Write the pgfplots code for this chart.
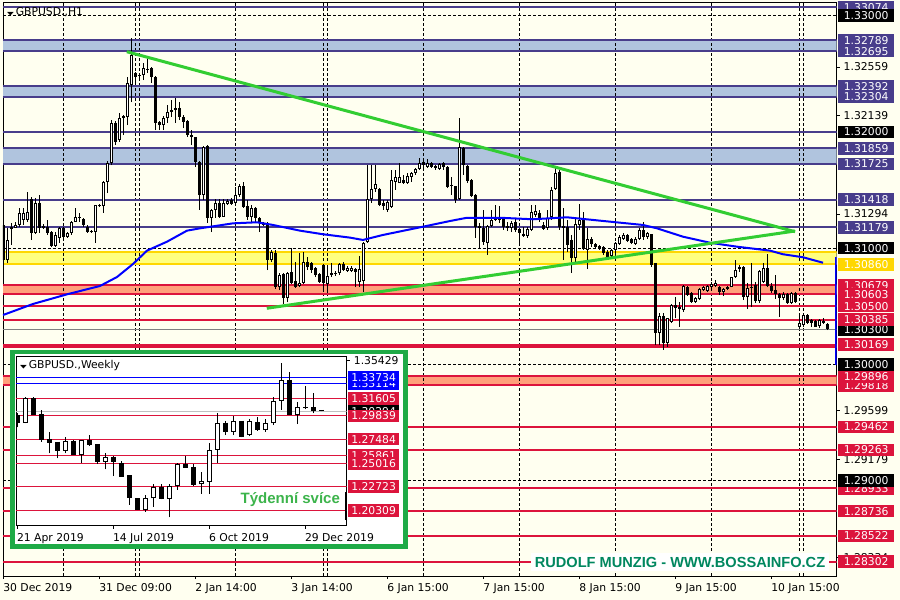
\documentclass[border=0pt]{standalone}
\usepackage{pgfplots}
\pgfplotsset{compat=1.18}
\usepackage{pgfplotstable}
\usepackage{fontspec}
\setmainfont{DejaVu Sans}
\newfontfamily\libsans{Liberation Sans}
\definecolor{bg}{RGB}{255,255,240}
\definecolor{levblue}{RGB}{72,61,139}
\definecolor{bandblue}{RGB}{176,196,222}
\definecolor{crim}{RGB}{220,20,60}
\definecolor{salm}{RGB}{255,160,122}
\definecolor{goldl}{RGB}{255,215,0}
\definecolor{yband}{RGB}{255,255,128}
\definecolor{trend}{RGB}{50,205,50}
\definecolor{frameg}{RGB}{30,170,70}
\definecolor{wmark}{RGB}{0,135,95}
\definecolor{tyd}{RGB}{60,180,75}
\definecolor{curgrey}{RGB}{128,128,128}
\definecolor{silv}{RGB}{192,192,192}

\pgfplotstableread{
n O H L C
1 1.31199 1.31199 1.30837 1.30897
2 1.30897 1.31173 1.30872 1.31070
3 1.31164 1.31216 1.31027 1.31181
4 1.31173 1.31225 1.31173 1.31199
5 1.31199 1.31345 1.31181 1.31302
6 1.31242 1.31345 1.31199 1.31302
7 1.31242 1.31483 1.31225 1.31311
8 1.31422 1.31440 1.31070 1.31130
9 1.31130 1.31431 1.31121 1.31388
10 1.31388 1.31457 1.31130 1.31173
11 1.31173 1.31207 1.31164 1.31190
12 1.31181 1.31242 1.31113 1.31130
13 1.31138 1.31147 1.31009 1.31018
14 1.31018 1.31138 1.31009 1.31113
15 1.31087 1.31181 1.31044 1.31173
16 1.31173 1.31181 1.31087 1.31095
17 1.31095 1.31138 1.31087 1.31130
18 1.31130 1.31233 1.31113 1.31225
19 1.31225 1.31345 1.31225 1.31268
20 1.31259 1.31302 1.31225 1.31268
21 1.31250 1.31259 1.31181 1.31199
22 1.31181 1.31199 1.31130 1.31138
23 1.31138 1.31156 1.31130 1.31147
24 1.31138 1.31371 1.31044 1.31371
25 1.31362 1.31379 1.31354 1.31371
26 1.31362 1.31577 1.31302 1.31569
27 1.31569 1.31749 1.31474 1.31732
28 1.31732 1.32102 1.31715 1.32077
29 1.32077 1.32094 1.31887 1.31913
30 1.31930 1.32163 1.31913 1.32120
31 1.32120 1.32145 1.31973 1.32137
32 1.32128 1.32472 1.32059 1.32421
33 1.32403 1.32808 1.32257 1.32662
34 1.32507 1.32515 1.32421 1.32472
35 1.32490 1.32507 1.32464 1.32481
36 1.32490 1.32593 1.32446 1.32550
37 1.32533 1.32644 1.32507 1.32541
38 1.32550 1.32558 1.32421 1.32472
39 1.32472 1.32481 1.32016 1.32077
40 1.32085 1.32094 1.32016 1.32059
41 1.32059 1.32137 1.32016 1.32120
42 1.32120 1.32231 1.32077 1.32171
43 1.32171 1.32274 1.32128 1.32188
44 1.32188 1.32292 1.32077 1.32206
45 1.32206 1.32257 1.32102 1.32128
46 1.32128 1.32145 1.32033 1.32085
47 1.32094 1.32102 1.31956 1.31973
48 1.31973 1.32016 1.31887 1.31956
49 1.31956 1.31956 1.31698 1.31741
50 1.31741 1.31749 1.31328 1.31457
51 1.31457 1.31879 1.31414 1.31870
52 1.31879 1.31887 1.31216 1.31259
53 1.31259 1.31336 1.31138 1.31328
54 1.31328 1.31422 1.31259 1.31388
55 1.31388 1.31422 1.31259 1.31268
56 1.31268 1.31422 1.31268 1.31388
57 1.31379 1.31422 1.31371 1.31405
58 1.31414 1.31431 1.31371 1.31379
59 1.31388 1.31526 1.31371 1.31457
60 1.31457 1.31552 1.31440 1.31534
61 1.31534 1.31569 1.31345 1.31354
62 1.31362 1.31414 1.31242 1.31268
63 1.31268 1.31371 1.31225 1.31345
64 1.31345 1.31354 1.31225 1.31259
65 1.31259 1.31268 1.31138 1.31216
66 1.31199 1.31225 1.31190 1.31216
67 1.31216 1.31225 1.30811 1.30897
68 1.30897 1.30984 1.30880 1.30966
69 1.30958 1.30984 1.30648 1.30665
70 1.30665 1.30786 1.30639 1.30768
71 1.30777 1.30786 1.30519 1.30570
72 1.30570 1.30794 1.30536 1.30786
73 1.30794 1.31001 1.30691 1.30700
74 1.30717 1.30880 1.30657 1.30665
75 1.30674 1.30958 1.30665 1.30700
76 1.30700 1.30966 1.30691 1.30880
77 1.30880 1.30923 1.30811 1.30837
78 1.30872 1.30880 1.30786 1.30811
79 1.30829 1.30837 1.30751 1.30768
80 1.30777 1.30786 1.30700 1.30708
81 1.30854 1.30863 1.30622 1.30700
82 1.30691 1.30854 1.30613 1.30760
83 1.30768 1.30872 1.30751 1.30786
84 1.30777 1.30803 1.30760 1.30786
85 1.30786 1.30872 1.30768 1.30863
86 1.30863 1.30880 1.30803 1.30811
87 1.30803 1.30846 1.30794 1.30829
88 1.30803 1.30846 1.30794 1.30829
89 1.30820 1.30829 1.30665 1.30794
90 1.30708 1.30932 1.30665 1.30820
91 1.30717 1.31052 1.30622 1.31044
92 1.31052 1.31715 1.31044 1.31422
93 1.31422 1.31715 1.31388 1.31509
94 1.31509 1.31715 1.31483 1.31552
95 1.31509 1.31517 1.31362 1.31371
96 1.31388 1.31414 1.31328 1.31362
97 1.31328 1.31414 1.31311 1.31397
98 1.31354 1.31672 1.31345 1.31586
99 1.31569 1.31672 1.31500 1.31612
100 1.31560 1.31732 1.31560 1.31612
101 1.31586 1.31629 1.31552 1.31560
102 1.31560 1.31646 1.31552 1.31620
103 1.31612 1.31655 1.31569 1.31646
104 1.31646 1.31689 1.31629 1.31681
105 1.31681 1.31775 1.31672 1.31732
106 1.31741 1.31749 1.31681 1.31715
107 1.31698 1.31767 1.31689 1.31732
108 1.31732 1.31741 1.31689 1.31698
109 1.31706 1.31715 1.31672 1.31689
110 1.31681 1.31732 1.31672 1.31724
111 1.31732 1.31741 1.31672 1.31698
112 1.31698 1.31706 1.31517 1.31526
113 1.31543 1.31612 1.31457 1.31534
114 1.31534 1.31534 1.31388 1.31414
115 1.31422 1.32120 1.31414 1.31870
116 1.31861 1.31870 1.31629 1.31715
117 1.31706 1.31715 1.31560 1.31577
118 1.31586 1.31595 1.31440 1.31448
119 1.31457 1.31465 1.31087 1.31181
120 1.31190 1.31216 1.31001 1.31173
121 1.31173 1.31328 1.31027 1.31052
122 1.31044 1.31199 1.30941 1.31190
123 1.31190 1.31328 1.31181 1.31242
124 1.31242 1.31371 1.31233 1.31268
125 1.31268 1.31362 1.31216 1.31242
126 1.31250 1.31259 1.31156 1.31181
127 1.31173 1.31225 1.31147 1.31190
128 1.31173 1.31233 1.31138 1.31216
129 1.31225 1.31250 1.31138 1.31156
130 1.31164 1.31173 1.31035 1.31130
131 1.31104 1.31181 1.31095 1.31121
132 1.31104 1.31181 1.31087 1.31164
133 1.31156 1.31371 1.31147 1.31311
134 1.31285 1.31371 1.31268 1.31319
135 1.31302 1.31328 1.31225 1.31242
136 1.31199 1.31225 1.31156 1.31164
137 1.31173 1.31328 1.31156 1.31259
138 1.31268 1.31526 1.31242 1.31500
139 1.31509 1.31689 1.31500 1.31646
140 1.31655 1.31672 1.31156 1.31181
141 1.31190 1.31345 1.30897 1.31173
142 1.31181 1.31242 1.30966 1.31027
143 1.31070 1.31113 1.30786 1.30915
144 1.30915 1.31259 1.30872 1.31207
145 1.31199 1.31379 1.31156 1.31242
146 1.31242 1.31311 1.30984 1.30992
147 1.30984 1.31173 1.30820 1.31078
148 1.31078 1.31095 1.31009 1.31035
149 1.31035 1.31044 1.31001 1.31009
150 1.31018 1.31027 1.30984 1.31001
151 1.31009 1.31018 1.30941 1.30958
152 1.30966 1.30984 1.30915 1.30923
153 1.30932 1.30992 1.30923 1.30984
154 1.30984 1.31052 1.30958 1.31044
155 1.31035 1.31113 1.31027 1.31095
156 1.31078 1.31130 1.31070 1.31113
157 1.31113 1.31121 1.31052 1.31061
158 1.31078 1.31087 1.31035 1.31044
159 1.31035 1.31095 1.31027 1.31078
160 1.31078 1.31173 1.31070 1.31156
161 1.31156 1.31225 1.31070 1.31095
162 1.31095 1.31138 1.31078 1.31130
163 1.31121 1.31121 1.30837 1.30854
164 1.30872 1.30872 1.30166 1.30269
165 1.30269 1.30441 1.30166 1.30416
166 1.30416 1.30441 1.30123 1.30183
167 1.30183 1.30398 1.30149 1.30398
168 1.30364 1.30519 1.30355 1.30510
169 1.30510 1.30579 1.30398 1.30484
170 1.30476 1.30536 1.30321 1.30493
171 1.30467 1.30682 1.30450 1.30674
172 1.30665 1.30674 1.30588 1.30596
173 1.30613 1.30622 1.30527 1.30536
174 1.30536 1.30579 1.30527 1.30570
175 1.30562 1.30657 1.30553 1.30648
176 1.30639 1.30674 1.30631 1.30665
177 1.30631 1.30682 1.30622 1.30674
178 1.30665 1.30708 1.30657 1.30691
179 1.30674 1.30725 1.30665 1.30700
180 1.30665 1.30674 1.30596 1.30622
181 1.30622 1.30657 1.30588 1.30648
182 1.30648 1.30674 1.30639 1.30665
183 1.30665 1.30751 1.30665 1.30751
184 1.30751 1.30897 1.30743 1.30811
185 1.30820 1.30854 1.30794 1.30837
186 1.30837 1.30846 1.30553 1.30579
187 1.30579 1.30700 1.30476 1.30657
188 1.30657 1.30872 1.30493 1.30665
189 1.30682 1.30708 1.30527 1.30545
190 1.30545 1.30811 1.30527 1.30803
191 1.30708 1.30872 1.30700 1.30829
192 1.30829 1.30949 1.30665 1.30674
193 1.30674 1.30700 1.30613 1.30631
194 1.30639 1.30768 1.30562 1.30605
195 1.30605 1.30613 1.30407 1.30570
196 1.30570 1.30622 1.30553 1.30605
197 1.30605 1.30613 1.30519 1.30527
198 1.30527 1.30622 1.30519 1.30613
199 1.30613 1.30622 1.30527 1.30536
200 1.30321 1.30433 1.30312 1.30355
201 1.30338 1.30433 1.30321 1.30424
202 1.30424 1.30433 1.30347 1.30355
203 1.30381 1.30390 1.30321 1.30355
204 1.30373 1.30381 1.30321 1.30321
205 1.30329 1.30390 1.30312 1.30381
206 1.30373 1.30398 1.30347 1.30355
207 1.30347 1.30355 1.30295 1.30304
}\candles

\pgfplotstableread{
k O H L C
0 1.29920 1.30089 1.28676 1.29147
1 1.29147 1.31770 1.29080 1.31602
2 1.31602 1.31770 1.29920 1.29920
3 1.30021 1.30425 1.27231 1.27399
4 1.27466 1.28240 1.26054 1.27130
5 1.27231 1.27231 1.25550 1.26323
6 1.26323 1.27735 1.26054 1.27298
7 1.27332 1.27399 1.25886 1.25886
8 1.25886 1.27399 1.25113 1.27399
9 1.27399 1.27903 1.26794 1.26895
10 1.26996 1.26996 1.24978 1.25214
11 1.25214 1.26054 1.24441 1.25651
12 1.25718 1.25785 1.23768 1.25214
13 1.25046 1.25315 1.23701 1.23701
14 1.23869 1.23869 1.20844 1.21517
15 1.21517 1.21517 1.20339 1.20339
16 1.20339 1.21853 1.20171 1.21517
17 1.21517 1.22961 1.20675 1.22693
18 1.22693 1.22961 1.21416 1.21483
19 1.21483 1.22961 1.19600 1.22794
20 1.22794 1.25046 1.22357 1.24978
21 1.24978 1.25785 1.24609 1.24609
22 1.24642 1.24978 1.22760 1.22861
23 1.22928 1.24172 1.21954 1.23230
24 1.23197 1.27063 1.21954 1.26391
25 1.26391 1.30156 1.25113 1.29147
26 1.29147 1.29349 1.27903 1.28240
27 1.28240 1.29819 1.27903 1.29349
28 1.29349 1.29349 1.27668 1.27735
29 1.27903 1.29484 1.27802 1.29315
30 1.29214 1.29752 1.28340 1.28407
31 1.28407 1.29484 1.28240 1.29080
32 1.29080 1.31770 1.28911 1.31333
33 1.31333 1.35199 1.30425 1.33451
34 1.33451 1.34291 1.29920 1.29920
35 1.29920 1.31265 1.29012 1.30694
36 1.30593 1.32846 1.30492 1.30694
37 1.30694 1.32173 1.30089 1.30358
38 1.30425 1.30425 1.30290 1.30290
}\weekly

\newcommand\labfont{\fontsize{10.8pt}{12pt}\selectfont}
\tikzset{
  lab/.style={anchor=west, xshift=1.5pt, text=white, minimum width=56pt, minimum height=12.5pt, inner sep=0pt, font=\labfont},
  plab/.style={anchor=west, xshift=7pt, text=black, inner sep=0pt, font=\labfont},
  gridst/.style={black, line width=0.7pt, dash pattern=on 3pt off 2pt},
  levst/.style={levblue, line width=2pt},
  goldst/.style={goldl, line width=2pt},
  crimst/.style={crim, line width=2pt},
  curst/.style={curgrey, line width=1pt},
}
\newcommand\hl[2]{\addplot[#1] coordinates {(\XL,#2) (\XR,#2)};}
\newcommand\vl[2]{\addplot[#1] coordinates {(#2,\YB) (#2,\YT)};}
\newcommand\band[3]{\addplot[draw=none, fill=#1] coordinates {(\XL,#2) (\XR,#2) (\XR,#3) (\XL,#3)};}
\newcommand\blab[2]{\node[lab, fill=#2] at (axis cs:\XR,#1) {#1};}
\newcommand\tlab[1]{\draw[black, line width=0.8pt] (axis cs:\XR,#1) -- ++(3.5pt,0pt); \node[plab] at (axis cs:\XR,#1) {#1};}
\newcommand\tri{\scalebox{1.1}[0.6]{\fontsize{8pt}{8pt}\selectfont ▼}}

\begin{document}
\begin{tikzpicture}
\path[use as bounding box, fill=bg] (-3pt,-24pt) rectangle (897pt,576pt);
\def\XL{0.85}\def\XR{209.225}\def\YB{1.28178}\def\YT{1.331135}
\begin{axis}[
  at={(0pt,0pt)}, anchor=south west,
  scale only axis, width=833.5pt, height=573.5pt,
  xmin=0.85, xmax=209.225, ymin=1.28178, ymax=1.331135,
  clip mode=individual,
  axis line style={black, line width=0.8pt},
  axis background/.style={fill=bg},
  ytick=\empty,
  xtick={1,25,49,73,97,121,145,169,193},
  xticklabels={30 Dec 2019, 31 Dec 09:00, 2 Jan 14:00, 3 Jan 14:00, 6 Jan 15:00, 7 Jan 15:00, 8 Jan 15:00, 9 Jan 15:00, 10 Jan 15:00},
  xtick pos=left, tick align=outside, major tick length=3pt,
  xtick style={black, line width=0.8pt},
  xticklabel style={anchor=north west, inner sep=0pt, font=\labfont, yshift=-4pt, xshift=-0.5pt},
]
% bands
\band{bandblue}{1.32695}{1.32789}
\band{bandblue}{1.32304}{1.32392}
\band{bandblue}{1.31725}{1.31859}
\band{yband}{1.30860}{1.30966}
\band{salm}{1.30603}{1.30679}
\band{salm}{1.29818}{1.29896}
% grid
\hl{gridst}{1.33}\hl{gridst}{1.32}\hl{gridst}{1.31}\hl{gridst}{1.30}\hl{gridst}{1.29}
\vl{gridst}{15.9}\vl{gridst}{34.0}\vl{gridst}{34.9}\vl{gridst}{59.0}\vl{gridst}{80.9}\vl{gridst}{81.9}
\vl{gridst}{106.0}\vl{gridst}{129.9}\vl{gridst}{154.0}\vl{gridst}{177.9}\vl{gridst}{199.9}\vl{gridst}{200.9}
% level lines
\hl{levst}{1.33074}\hl{levst}{1.32789}\hl{levst}{1.32695}\hl{levst}{1.32392}\hl{levst}{1.32304}
\hl{levst}{1.32000}\hl{levst}{1.31859}\hl{levst}{1.31725}\hl{levst}{1.31418}\hl{levst}{1.31179}
\hl{goldst}{1.30966}\hl{goldst}{1.30860}
\hl{crimst}{1.30679}\hl{crimst}{1.30603}\hl{crimst}{1.30500}\hl{crimst}{1.30385}\hl{crimst}{1.30169}
\hl{crimst}{1.30151}\hl{crimst}{1.29896}\hl{crimst}{1.29818}\hl{crimst}{1.29462}\hl{crimst}{1.29263}
\hl{crimst}{1.28933}\hl{crimst}{1.28736}\hl{crimst}{1.28522}\hl{crimst}{1.28302}
\hl{curst}{1.30300}
% candles: wicks, bodies, white inner
\addplot[black, line width=1pt, quiver={u=0, v=\thisrow{H}-\thisrow{L}}] table[x=n, y=L] {\candles};
\addplot[black, line width=3pt, quiver={u=0, v=\thisrow{C}-\thisrow{O}}] table[x=n, y=O] {\candles};
\addplot[white, line width=1pt, quiver={u=0, v={max(\thisrow{C}-\thisrow{O}-0.00018,0)}}] table[x=n, y expr=\thisrow{O}+0.00009] {\candles};
% moving average
\addplot[blue, line width=2pt] coordinates {(0.85,1.30424) (8.35,1.30519) (16.85,1.30602) (25.1,1.30674) (29.35,1.30751) (33.35,1.30863) (36.85,1.30978) (41.85,1.31055) (46.85,1.31150) (50.1,1.31170) (58.35,1.31213) (64.35,1.31222) (68.35,1.31199) (75.1,1.31150) (80.85,1.31119) (87.6,1.31090) (90.85,1.31070) (95.85,1.31113) (105.85,1.31184) (112.6,1.31233) (116.85,1.31261) (125.1,1.31261) (133.35,1.31248) (141.85,1.31265) (150.1,1.31236) (160.85,1.31199) (164.35,1.31170) (170.85,1.31098) (177.6,1.31046) (184.35,1.31012) (192.6,1.30978) (195.85,1.30947) (200.85,1.30921) (205.85,1.30874)};
% trend lines
\addplot[trend, line width=3pt] coordinates {(31.8,1.32690) (198.85,1.31141)};
\addplot[trend, line width=3pt] coordinates {(66.8,1.30482) (198.85,1.31147)};
% right blue bar
\addplot[blue, line width=3pt] coordinates {(\XR,1.30921) (\XR,1.29996)};
% price labels
\tlab{1.32559}\tlab{1.32139}\tlab{1.31294}\tlab{1.29599}\tlab{1.29179}\tlab{1.28334}
\blab{1.33074}{levblue}\blab{1.32789}{levblue}\blab{1.32695}{levblue}\blab{1.32392}{levblue}
\blab{1.32304}{levblue}\blab{1.31859}{levblue}\blab{1.31725}{levblue}\blab{1.31418}{levblue}
\blab{1.31179}{levblue}\blab{1.30860}{goldl}\blab{1.30300}{black}
\blab{1.30679}{crim}\blab{1.30603}{crim}\blab{1.30500}{crim}\blab{1.30385}{crim}\blab{1.30169}{crim}
\blab{1.29818}{crim}\blab{1.29896}{crim}\blab{1.29462}{crim}\blab{1.29263}{crim}\blab{1.28933}{crim}
\blab{1.28736}{crim}\blab{1.28522}{crim}\blab{1.28302}{crim}
\blab{1.33000}{black}\blab{1.32000}{black}\blab{1.31000}{black}\blab{1.30000}{black}\blab{1.29000}{black}
\node[anchor=west, inner sep=0pt, font=\labfont, xshift=4pt, yshift=-9.5pt] at (rel axis cs:0,1) {\tri\,GBPUSD.,H1};
\end{axis}

% watermark
\node[fill=white, minimum width=298pt, minimum height=18pt, inner sep=0pt, text=wmark,
  font=\libsans\bfseries\fontsize{14.6pt}{16pt}\selectfont] at (677pt,14pt) {RUDOLF MUNZIG - WWW.BOSSAINFO.CZ};

% inset
\draw[frameg, line width=4.5pt, fill=white] (9.4pt,29.3pt) rectangle (402.3pt,224pt);
\def\XL{-0.1625}\def\XR{41.175}\def\YB{1.18756}\def\YT{1.35871}
\tikzset{lab/.style={anchor=west, xshift=1pt, text=white, minimum width=51.5pt, minimum height=12.5pt, inner sep=0pt, font=\labfont}}
\begin{axis}[
  at={(13pt,50.3pt)}, anchor=south west,
  scale only axis, width=330.7pt, height=169.7pt,
  xmin=-0.1625, xmax=41.175, ymin=1.18756, ymax=1.35871,
  clip mode=individual,
  axis line style={black, line width=0.6pt},
  axis background/.style={fill=white},
  ytick=\empty,
  xtick={0,12,24,36},
  xticklabels={21 Apr 2019, 14 Jul 2019, 6 Oct 2019, 29 Dec 2019},
  xtick pos=left, tick align=outside, major tick length=3pt,
  xtick style={black, line width=0.6pt},
  xticklabel style={anchor=north west, inner sep=0pt, font=\labfont, yshift=-4.5pt, xshift=-0.5pt},
]
\hl{blue, line width=1pt}{1.33734}\hl{blue, line width=1pt}{1.33114}
\hl{crim, line width=1pt}{1.31605}\hl{crim, line width=1pt}{1.29839}\hl{crim, line width=1pt}{1.27484}
\hl{crim, line width=1pt}{1.25861}\hl{crim, line width=1pt}{1.25016}\hl{crim, line width=1pt}{1.22723}
\hl{crim, line width=1pt}{1.20309}
\hl{silv, line width=1pt}{1.30294}
\addplot[black, line width=1pt, quiver={u=0, v=\thisrow{H}-\thisrow{L}}] table[x=k, y=L] {\weekly};
\addplot[black, line width=5pt, quiver={u=0, v=\thisrow{C}-\thisrow{O}}] table[x=k, y=O] {\weekly};
\addplot[white, line width=3pt, quiver={u=0, v={max(\thisrow{C}-\thisrow{O}-0.00202,0)}}] table[x=k, y expr=\thisrow{O}+0.00101] {\weekly};
\addplot[black, line width=3pt] coordinates {(\XR,1.22155) (\XR,1.19331)};
\tlab{1.35429}
\blab{1.33114}{blue}\blab{1.33734}{blue}\blab{1.31605}{crim}\blab{1.30294}{black}\blab{1.29839}{crim}
\blab{1.27484}{crim}\blab{1.25861}{crim}\blab{1.25016}{crim}\blab{1.22723}{crim}\blab{1.20309}{crim}
\node[anchor=west, inner sep=0pt, font=\labfont, xshift=4pt, yshift=-10pt] at (rel axis cs:0,1) {\tri\,GBPUSD.,Weekly};
\node[anchor=east, inner sep=0pt, text=tyd, font=\libsans\bfseries\fontsize{15pt}{17pt}\selectfont] at (rel axis cs:0.98,0.1514) {Týdenní svíce};
\end{axis}
\end{tikzpicture}
\end{document}
